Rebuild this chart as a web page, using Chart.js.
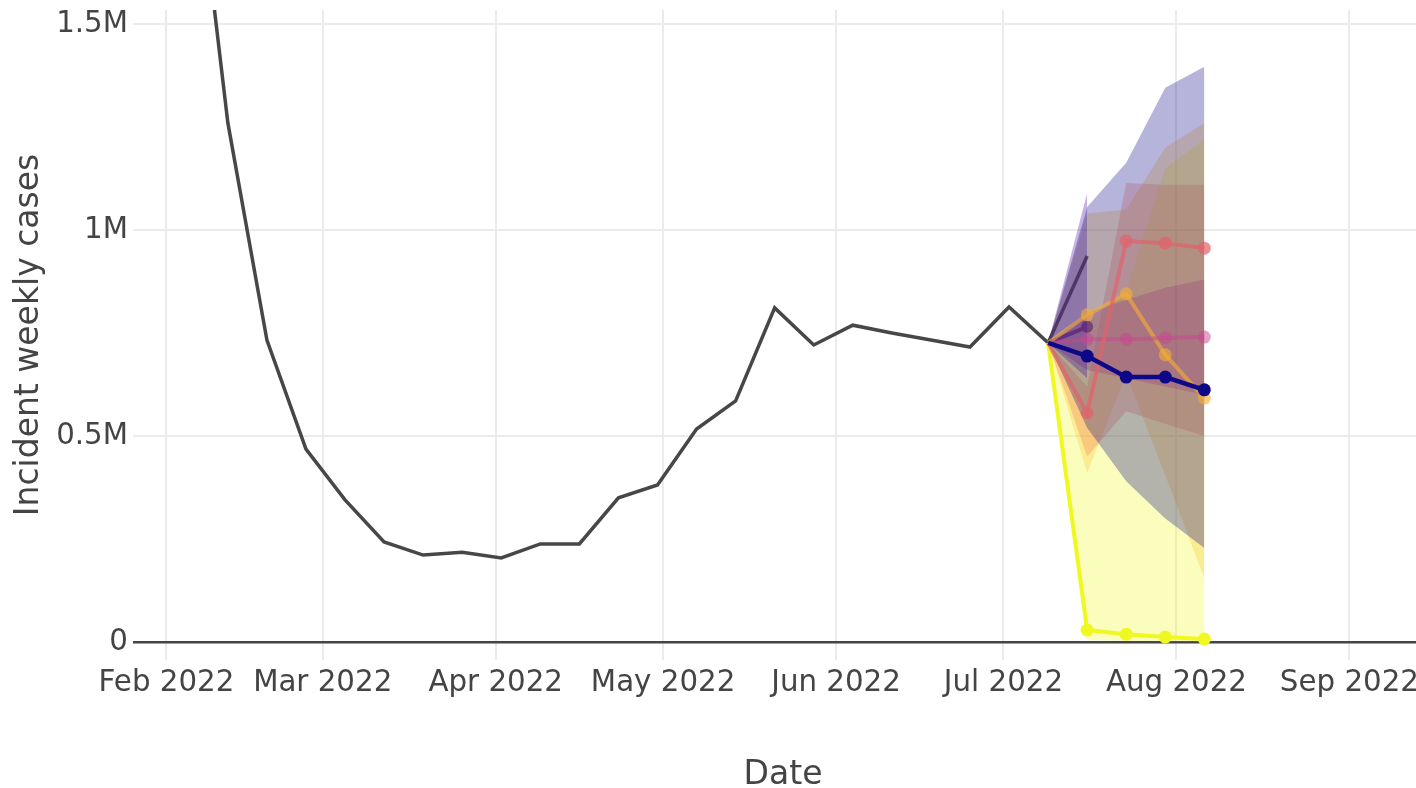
<!DOCTYPE html>
<html>
<head>
<meta charset="utf-8">
<script src="https://cdn.jsdelivr.net/npm/chart.js@4.4.1/dist/chart.umd.min.js"></script>
<style>
  html, body { margin: 0; padding: 0; background: #fff; overflow: hidden; }
  #wrap { width: 1450px; height: 788px; }
</style>
</head>
<body>
<div id="wrap"><canvas id="chart" width="1450" height="788"></canvas></div>
<script>
// Observed weekly incident cases (week ending dates)
const observedDates = [
  '2022-02-05','2022-02-12','2022-02-19','2022-02-26','2022-03-05','2022-03-12',
  '2022-03-19','2022-03-26','2022-04-02','2022-04-09','2022-04-16','2022-04-23',
  '2022-04-30','2022-05-07','2022-05-14','2022-05-21','2022-05-28','2022-06-04',
  '2022-06-11','2022-06-18','2022-06-25','2022-07-02','2022-07-09','2022-07-16'
];
const observedCases = [
  2060000, 1260000, 733000, 468000, 345000, 243000,
  211000, 218000, 204000, 238000, 238000, 350000,
  381000, 517000, 585000, 811000, 721000, 769000,
  750000, 733000, 716000, 813000, 726000, 937000
];

// Forecasts start from the last observed week used for fitting
const anchorDate = '2022-07-09';
const forecastDates = ['2022-07-16', '2022-07-23', '2022-07-30', '2022-08-06'];

// Model forecasts: median with lower / upper interval bounds
const modelAMedian = [694000, 643000, 643000, 612000];
const modelALower  = [520000, 390000, 300000, 228000];
const modelAUpper  = [1056000, 1163000, 1345000, 1396000];

const modelBMedian = [765000];
const modelBLower  = [640000];
const modelBUpper  = [1090000];

const modelCMedian = [556000, 973000, 968000, 956000];
const modelCLower  = [450000, 560000, 530000, 500000];
const modelCUpper  = [620000, 1114000, 1110000, 1110000];

const modelDMedian = [735000, 735000, 738000, 740000];
const modelDLower  = [660000, 640000, 620000, 600000];
const modelDUpper  = [800000, 830000, 860000, 880000];

const modelEMedian = [794000, 845000, 697000, 592000];
const modelELower  = [410000, 650000, 405000, 155000];
const modelEUpper  = [1040000, 1050000, 1200000, 1260000];

const modelFMedian = [29000, 19000, 12000, 7000];
const modelFLower  = [4000, 3000, 2000, 1000];
const modelFUpper  = [780000, 850000, 1150000, 1220000];

// Axis ticks
const monthTickDates  = ['2022-02-01','2022-03-01','2022-04-01','2022-05-01','2022-06-01','2022-07-01','2022-08-01','2022-09-01'];
const monthTickLabels = ['Feb 2022','Mar 2022','Apr 2022','May 2022','Jun 2022','Jul 2022','Aug 2022','Sep 2022'];
const yTickValues = [0, 500000, 1000000, 1500000];
const yTickLabels = ['0', '0.5M', '1M', '1.5M'];

// Dates are plotted as day numbers since 1 Jan 2022
const epoch = Date.parse('2022-01-01T00:00:00Z');
const day = s => (Date.parse(s + 'T00:00:00Z') - epoch) / 864e5;

const anchorValue = observedCases[observedDates.indexOf(anchorDate)];
const forecastPath = vals => [{ x: day(anchorDate), y: anchorValue }]
  .concat(vals.map((v, i) => ({ x: day(forecastDates[i]), y: v })));

function medianLine(vals, color, order, width, radius) {
  return {
    data: forecastPath(vals),
    borderColor: color,
    backgroundColor: color,
    borderWidth: width,
    pointRadius: ctx => (ctx.dataIndex === 0 ? 0 : radius),
    pointHoverRadius: 0,
    pointBorderWidth: 0,
    fill: false,
    tension: 0,
    order: order
  };
}

function band(lower, upper, fillColor) {
  return [
    { data: forecastPath(lower), borderWidth: 0, pointRadius: 0, fill: false, order: 5 },
    { data: forecastPath(upper), borderWidth: 0, pointRadius: 0, fill: '-1',
      backgroundColor: fillColor, order: 5 }
  ];
}

const colors = {
  a: '#0d0887', b: '#46039f', c: '#ed7953', d: '#bd3786', e: '#fcc02e', f: '#f0f921'
};
const alpha = (hex, a) => {
  const n = parseInt(hex.slice(1), 16);
  return `rgba(${(n >> 16) & 255},${(n >> 8) & 255},${n & 255},${a})`;
};

const datasets = [
  medianLine(modelAMedian, colors.a, 1, 4.5, 6.5),
  medianLine(modelCMedian, alpha('#e0646c', 0.72), 3, 4, 6.5),
  medianLine(modelDMedian, alpha('#c8468f', 0.5), 3, 4, 6.5),
  medianLine(modelEMedian, alpha('#f4ac36', 0.62), 3, 4, 6.5),
  ...band(modelALower, modelAUpper, alpha(colors.a, 0.3)),
  ...band(modelBLower, modelBUpper, alpha(colors.b, 0.3)),
  ...band(modelCLower, modelCUpper, alpha(colors.c, 0.3)),
  ...band(modelDLower, modelDUpper, alpha(colors.d, 0.3)),
  ...band(modelELower, modelEUpper, alpha(colors.e, 0.3)),
  ...band(modelFLower, modelFUpper, alpha(colors.f, 0.3)),
  medianLine(modelBMedian, colors.b, 8, 4, 6),
  medianLine(modelFMedian, colors.f, 8, 4, 6.5),
  {
    data: observedDates.map((d, i) => ({ x: day(d), y: observedCases[i] })),
    borderColor: '#474747',
    borderWidth: 3.5,
    pointRadius: 0,
    fill: false,
    tension: 0,
    clip: 0,
    order: 10
  }
];

const tickFont = { family: 'DejaVu Sans', size: 29.3, lineHeight: 1.2 };
const titleFont = { family: 'DejaVu Sans', size: 33, lineHeight: 1.2 };

new Chart(document.getElementById('chart'), {
  type: 'line',
  data: { datasets },
  options: {
    responsive: false,
    animation: false,
    events: [],
    layout: { padding: { left: 0, right: 16.9, top: 10, bottom: 0 } },
    plugins: { legend: { display: false }, tooltip: { enabled: false } },
    scales: {
      x: {
        type: 'linear',
        min: day('2022-01-26'),
        max: day('2022-09-16'),
        afterBuildTicks: s => { s.ticks = monthTickDates.map(d => ({ value: day(d) })); },
        afterFit: s => { s.height = 128; s.paddingLeft = 0; s.paddingRight = 0; },
        ticks: {
          autoSkip: false, maxRotation: 0, minRotation: 0,
          padding: 6, color: '#444', font: tickFont,
          callback: v => monthTickLabels[monthTickDates.findIndex(d => day(d) === v)]
        },
        grid: { color: '#ebebeb', lineWidth: 2, drawTicks: false },
        border: { display: false },
        title: {
          display: true, text: 'Date', color: '#444', font: titleFont,
          padding: { top: 0, bottom: -7 }
        }
      },
      y: {
        type: 'linear',
        min: -43690,
        max: 1533980,
        afterBuildTicks: s => { s.ticks = yTickValues.map(v => ({ value: v })); },
        afterFit: s => { s.width = 133; s.paddingTop = 0; s.paddingBottom = 0; },
        ticks: {
          padding: 5, color: '#444', font: tickFont,
          callback: v => yTickLabels[yTickValues.indexOf(v)]
        },
        grid: {
          color: c => (c.tick && c.tick.value === 0 ? '#444' : '#ebebeb'),
          lineWidth: c => (c.tick && c.tick.value === 0 ? 2.5 : 2),
          drawTicks: false
        },
        border: { display: false },
        title: {
          display: true, text: 'Incident weekly cases', color: '#444', font: titleFont,
          padding: { top: 10, bottom: 0 }
        }
      }
    }
  }
});
</script>
</body>
</html>
